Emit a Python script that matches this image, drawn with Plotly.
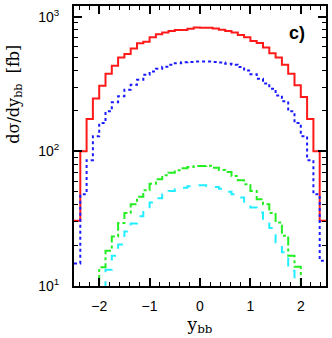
import plotly.graph_objects as go

# bin edges: -2.5 .. 2.5 in steps of 0.125 (40 bins)
bin_lo = -2.5
bin_w = 0.125
n_bins = 40

red_vals = [30.5, 100, 174, 247, 307, 376, 431, 497, 529, 579, 634, 652, 702, 739, 761, 783, 796, 796, 814, 832,
            826, 826, 818, 800, 783, 761, 731, 702, 660, 638, 589, 535, 497, 439, 376, 310, 253, 174, 100, 30.5]
blue_vals = [14.7, 48, 86, 129.5, 162, 198, 231, 256, 287, 312, 340, 370, 392, 410, 424, 439, 451, 459, 461, 464,
             464, 464, 461, 457, 446, 439, 422, 398, 374, 346, 319, 292, 260, 235, 198, 162, 129.5, 86, 48, 15.4]
green_vals = [1, 1, 1, 1, 13.8, 18.3, 23.3, 29.3, 34.8, 40.5, 45.9, 51.4, 57.5, 62, 66.3, 69.3, 72.2, 74.8, 76.4, 77.8,
              77.8, 78.2, 75.5, 72.6, 70.2, 65.6, 61, 56.9, 50.8, 44.1, 40.5, 34.8, 29.6, 23.6, 16.8, 13.9, 1, 1, 1, 1]
cyan_vals = [1, 1, 1, 1, 1, 13.2, 16.8, 20.3, 25.4, 29.1, 33, 37.2, 41.6, 44.9, 48, 50.8, 52.3, 53.7, 55, 56,
             56, 55.3, 54.4, 52.8, 50.2, 48, 45.4, 42.3, 38.2, 35.1, 30.5, 26.9, 21.1, 17.8, 13.0, 1, 1, 1, 1, 1]

x_ticks = [-2, -1, 0, 1, 2]
y_ticks = [10, 100, 1000]
y_ticktext = ["10<sup>1</sup>", "10<sup>2</sup>", "10<sup>3</sup>"]

edges = [bin_lo + bin_w * i for i in range(n_bins + 1)]

def step(vals):
    return edges, list(vals) + [vals[-1]]

fig = go.Figure()
series = [
    (red_vals, "#ff1a1a", "solid"),
    (blue_vals, "#1a1aff", "dot"),
    (green_vals, "#22ee22", "dashdot"),
    (cyan_vals, "#22eeff", "dash"),
]
for vals, col, dash in series:
    xs, ys = step(vals)
    fig.add_trace(go.Scatter(x=xs, y=ys, mode="lines", line_shape="hv",
                             line=dict(color=col, width=2, dash=dash), showlegend=False))

minor_y = [v * m for v in (10, 100) for m in range(2, 10)]

fig.update_layout(
    width=332, height=338,
    margin=dict(l=74, r=4, t=4, b=52),
    paper_bgcolor="white", plot_bgcolor="white",
    font=dict(family="Liberation Sans", size=13, color="black"),
    xaxis=dict(range=[-2.5, 2.5], tickvals=x_ticks, ticks="inside", ticklen=8, tickwidth=1.5,
               tickcolor="black", showline=True, linewidth=2, linecolor="black", mirror="allticks",
               showgrid=False, zeroline=False, ticklabelstandoff=6,
               tickfont=dict(family="Liberation Sans", size=14),
               minor=dict(ticks="inside", ticklen=4, tickwidth=1, tickcolor="black", dtick=0.2, showgrid=False),
               title=dict(text="y<sub>bb</sub>", font=dict(family="DejaVu Serif", size=17), standoff=4)),
    yaxis=dict(type="log", range=[1, 3.079], tickvals=y_ticks, ticktext=y_ticktext, ticks="inside",
               ticklen=8, tickwidth=1.5, tickcolor="black", showline=True, linewidth=2, linecolor="black",
               mirror="allticks", showgrid=False, zeroline=False, ticklabelstandoff=10,
               tickfont=dict(family="Liberation Sans", size=14),
               minor=dict(ticks="inside", ticklen=4, tickwidth=1, tickcolor="black", tickvals=minor_y,
                          showgrid=False)),
    annotations=[
        dict(text="dσ/dy<sub>bb</sub>  [fb]", textangle=-90, xref="paper", yref="paper",
             x=-0.235, y=0.87, xanchor="center", yanchor="top", showarrow=False,
             font=dict(family="DejaVu Serif", size=16)),
        dict(text="<b>c)</b>", xref="paper", yref="paper", x=0.885, y=0.905, xanchor="center",
             yanchor="middle", showarrow=False, font=dict(family="Liberation Sans", size=18)),
    ],
)

fig.write_html("out.html", config={"displayModeBar": False},
               post_script="document.body.style.margin='0';document.body.style.overflow='hidden';")
